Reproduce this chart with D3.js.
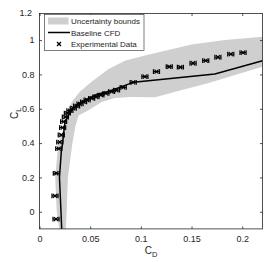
<!DOCTYPE html>
<html>
<head>
<meta charset="utf-8">
<script src="https://cdn.jsdelivr.net/npm/d3@7"></script>
<style>
  body { margin: 0; background: #fff; }
  text { font-family: "Liberation Sans", Arial, sans-serif; fill: #262626; }
</style>
</head>
<body>
<div id="chart"></div>
<script>
// banda de incertidumbre: borde superior/izquierdo y borde inferior/derecho (CD, CL)
const bandUpper = [[0.0195,-0.1],[0.017,0],[0.0155,0.2],[0.0185,0.4],[0.0234,0.48],[0.027,0.56],
  [0.0317,0.64],[0.04,0.70],[0.0514,0.758],[0.0678,0.83],[0.0842,0.879],[0.104,0.91],
  [0.15,0.975],[0.183,1.0],[0.22,1.02]];
const bandLower = [[0.026,-0.1],[0.0268,0],[0.028,0.2],[0.0325,0.4],[0.0355,0.5],[0.0385,0.56],
  [0.048,0.59],[0.0613,0.64],[0.0744,0.662],[0.09,0.668],[0.114,0.667],[0.135,0.70],
  [0.166,0.749],[0.22,0.845]];

// baseline CFD
const cfdCD = [0.0219,0.0212,0.0197,0.0215,0.0228,0.0251,0.0294,0.033,0.038,0.0465,0.0563,0.0675,0.081,0.093,0.173,0.22];
const cfdCL = [-0.1,0,0.2,0.35,0.4,0.525,0.572,0.60,0.628,0.655,0.683,0.70,0.729,0.755,0.803,0.88];

// datos experimentales
const expCD = [0.0163,0.0153,0.0166,0.0190,0.0200,0.0215,0.0228,0.0238,0.0255,0.0275,0.0300,0.0333,
  0.0366,0.0400,0.0435,0.0470,0.0514,0.0557,0.0605,0.0655,0.0711,0.076,0.0826,0.0924,0.104,
  0.1154,0.128,0.139,0.1515,0.164,0.176,0.1887,0.2008];
const expCL = [-0.043,0.092,0.224,0.368,0.406,0.447,0.490,0.525,0.552,0.574,0.589,0.603,
  0.616,0.628,0.640,0.651,0.661,0.670,0.680,0.690,0.700,0.708,0.725,0.754,0.787,
  0.816,0.845,0.842,0.865,0.88,0.90,0.918,0.927];
const expErr = 0.003;

const xTicks = [0, 0.05, 0.1, 0.15, 0.2];
const yTicks = [0, 0.2, 0.4, 0.6, 0.8, 1];
const yTopLabel = "1.2";
const legendLabels = ["Uncertainty bounds", "Baseline CFD", "Experimental Data"];

const W = 269, H = 262;
const mLeft = 39.5, mRight = 262.5, mTop = 13.5, mBottom = 228.9;

const svg = d3.select("#chart").append("svg")
    .attr("width", W)
    .attr("height", H);

const x = d3.scaleLinear([0, 0.22], [mLeft, mRight]);
const y = d3.scaleLinear([-0.1, 1.155], [mBottom, mTop]);

// recorte al área del gráfico
svg.append("clipPath").attr("id", "clip")
    .append("rect")
    .attr("x", mLeft).attr("y", mTop)
    .attr("width", mRight - mLeft).attr("height", mBottom - mTop);

const plot = svg.append("g").attr("clip-path", "url(#clip)");

// banda
const poly = bandUpper.concat(bandLower.slice().reverse());
plot.append("path")
    .attr("d", d3.line().x(d => x(d[0])).y(d => y(d[1]))(poly) + "Z")
    .attr("fill", "#cfcfcf")
    .attr("stroke", "none");

// línea CFD
const cfd = cfdCD.map((d, i) => [d, cfdCL[i]]);
plot.append("path")
    .attr("d", d3.line().x(d => x(d[0])).y(d => y(d[1]))(cfd))
    .attr("fill", "none")
    .attr("stroke", "#000")
    .attr("stroke-width", 1.5);

// puntos experimentales: barra de error horizontal + aspa
const exp = expCD.map((d, i) => ({ cd: d, cl: expCL[i] }));
const pts = plot.selectAll("g.pt")
    .data(exp)
    .enter().append("g")
    .classed("pt", true)
    .attr("stroke", "#000")
    .attr("stroke-width", 1.2)
    .attr("fill", "none");
pts.append("path")
    .attr("d", d => {
        const x0 = x(d.cd - expErr), x1 = x(d.cd + expErr), yy = y(d.cl);
        return `M${x0},${yy}H${x1}M${x0},${yy - 2.4}V${yy + 2.4}M${x1},${yy - 2.4}V${yy + 2.4}`;
    });
pts.append("path")
    .attr("d", d => {
        const cx = x(d.cd), cy = y(d.cl), s = 2;
        return `M${cx - s},${cy - s}L${cx + s},${cy + s}M${cx - s},${cy + s}L${cx + s},${cy - s}`;
    });

// ejes (ticks hacia dentro, caja completa)
const axisColor = "#262626";
const tl = 2.5;
const gx = svg.append("g").attr("transform", `translate(0,${mBottom})`)
    .call(d3.axisBottom(x).tickValues(xTicks).tickSize(-tl).tickPadding(7).tickFormat(d => d3.format("")(d)));
const gy = svg.append("g").attr("transform", `translate(${mLeft},0)`)
    .call(d3.axisLeft(y).tickValues(yTicks).tickSize(-tl).tickPadding(5).tickFormat(d => d3.format("")(d)));
const gxt = svg.append("g").attr("transform", `translate(0,${mTop})`)
    .call(d3.axisTop(x).tickValues(xTicks).tickSize(-tl).tickFormat(""));
const gyr = svg.append("g").attr("transform", `translate(${mRight},0)`)
    .call(d3.axisRight(y).tickValues(yTicks).tickSize(-tl).tickFormat(""));
[gx, gy, gxt, gyr].forEach(g => {
    g.select(".domain").remove();
    g.selectAll(".tick line").attr("stroke", axisColor).attr("stroke-width", 0.8);
    g.selectAll(".tick text").attr("fill", axisColor)
        .style("font-family", "'Liberation Sans', Arial, sans-serif")
        .style("font-size", "9px");
});
// etiqueta en el extremo superior del eje
gy.append("text")
    .attr("x", -7.5).attr("y", mTop)
    .attr("dy", "0.32em")
    .attr("text-anchor", "end")
    .attr("fill", axisColor)
    .style("font-size", "9px")
    .text(yTopLabel);
svg.append("rect")
    .attr("x", mLeft).attr("y", mTop)
    .attr("width", mRight - mLeft).attr("height", mBottom - mTop)
    .attr("fill", "none").attr("stroke", axisColor).attr("stroke-width", 0.8);

// etiquetas de ejes
const xl = svg.append("text")
    .attr("x", (mLeft + mRight) / 2)
    .attr("y", 254)
    .attr("text-anchor", "middle")
    .style("font-size", "10px");
xl.append("tspan").text("C");
xl.append("tspan").attr("dy", 3).style("font-size", "7.5px").text("D");

const yl = svg.append("text")
    .attr("transform", `translate(18,${(mTop + mBottom) / 2 - 8}) rotate(-90)`)
    .attr("text-anchor", "middle")
    .style("font-size", "10px");
yl.append("tspan").text("C");
yl.append("tspan").attr("dy", 3).style("font-size", "7.5px").text("L");

// leyenda
const lg = svg.append("g");
lg.append("rect")
    .attr("x", 44.5).attr("y", 14.5)
    .attr("width", 99.5).attr("height", 36)
    .attr("fill", "#fff").attr("stroke", axisColor).attr("stroke-width", 0.6);
const rows = legendLabels.map((t, i) => ({ t, i, cy: 21 + i * 11.5 }));
lg.selectAll("text.lab")
    .data(rows)
    .enter().append("text")
    .classed("lab", true)
    .attr("x", 71)
    .attr("y", d => d.cy + 3)
    .style("font-size", "8px")
    .text(d => d.t);
lg.append("rect")
    .attr("x", 48).attr("y", rows[0].cy - 3.5)
    .attr("width", 20.5).attr("height", 7)
    .attr("fill", "#cfcfcf");
lg.append("line")
    .attr("x1", 48).attr("x2", 70)
    .attr("y1", rows[1].cy).attr("y2", rows[1].cy)
    .attr("stroke", "#000").attr("stroke-width", 1.5);
const mx = 59, my = rows[2].cy, ms = 2;
lg.append("path")
    .attr("d", `M${mx - ms},${my - ms}L${mx + ms},${my + ms}M${mx - ms},${my + ms}L${mx + ms},${my - ms}`)
    .attr("stroke", "#000").attr("stroke-width", 1.3);
</script>
</body>
</html>
